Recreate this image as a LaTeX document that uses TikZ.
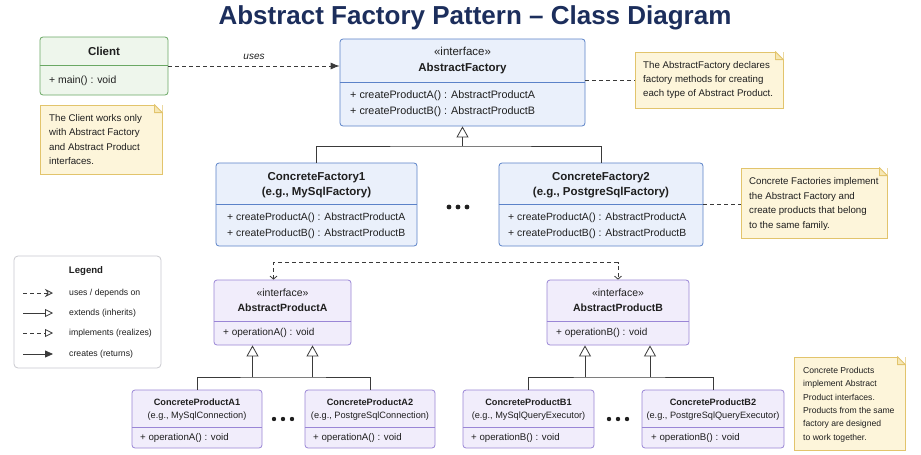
\documentclass[tikz,border=0pt]{standalone}
\usepackage{fontspec}
\setmainfont{Liberation Sans}
\usetikzlibrary{arrows.meta}
\definecolor{ink}{HTML}{1F1F1F}
\definecolor{titleblue}{HTML}{1C2E5C}
\definecolor{linec}{HTML}{3A3A3A}
\definecolor{clientfill}{HTML}{EEF6EC}
\definecolor{clientdraw}{HTML}{6AA864}
\definecolor{facfill}{HTML}{EAF0FB}
\definecolor{facdraw}{HTML}{5B82C8}
\definecolor{prodfill}{HTML}{F1EDFB}
\definecolor{proddraw}{HTML}{9A86D6}
\definecolor{notefill}{HTML}{FDF5DA}
\definecolor{notedraw}{HTML}{E2C46C}
\definecolor{notefold}{HTML}{F6E7B4}
\definecolor{legenddraw}{HTML}{C9C9CF}

\tikzset{
  umlbox/.style={draw, line width=0.8pt, rounded corners=3pt, inner sep=0pt},
  clientbox/.style={umlbox, draw=clientdraw, fill=clientfill},
  facbox/.style={umlbox, draw=facdraw, fill=facfill},
  prodbox/.style={umlbox, draw=proddraw, fill=prodfill},
  notebox/.style={draw=notedraw, fill=notefill, line width=0.8pt, inner sep=0pt},
  legendbox/.style={draw=legenddraw, fill=white, line width=0.8pt, rounded corners=4pt, inner sep=0pt},
  divider/.style={line width=0.8pt},
  hdr/.style={align=center, inner sep=0pt, text=ink},
  ops/.style={align=left, anchor=west, inner sep=0pt, text=ink},
  notetext/.style={align=left, anchor=west, inner sep=0pt, text=ink, font=\fontsize{9.7}{14.4}\selectfont},
  lgtext/.style={anchor=west, inner sep=0pt, text=ink, font=\fontsize{8.7}{10}\selectfont},
  link/.style={draw=linec, line width=0.8pt},
  dep/.style={link, dash pattern=on 4pt off 3pt},
  extends/.style={link, -{Triangle[open, length=11pt, width=12pt]}},
}

\begin{document}
\begin{tikzpicture}[x=1pt, y=-1pt]
  \fill[white] (0,0) rectangle (921,455);
  \useasboundingbox (0,0) rectangle (921,455);

  \node[anchor=base, text=titleblue, font=\bfseries\fontsize{26}{30}\selectfont] (title) at (475,24)
    {Abstract Factory Pattern – Class Diagram};

  % Client
  \node[clientbox, minimum width=128pt, minimum height=58pt] (client) at (104,66) {};
  \draw[clientdraw, divider] (client.west |- 0,65.5) -- (client.east |- 0,65.5);
  \node[hdr, font=\bfseries\fontsize{11.5}{14}\selectfont] (client-h) at (104,51) {Client};
  \node[ops, font=\fontsize{10.4}{16}\selectfont] (client-m) at (49,81) {+ main() : void};

  \node[notebox, minimum width=122pt, minimum height=69pt] (nclient) at (101,139.5) {};
  \node[notetext] (nclient-t) at (49,139.5)
    {The Client works only\\with Abstract Factory\\and Abstract Product\\interfaces.};

  % AbstractFactory
  \node[facbox, minimum width=245pt, minimum height=87pt] (af) at (462.5,82.5) {};
  \draw[facdraw, divider] (af.west |- 0,82) -- (af.east |- 0,82);
  \node[hdr, font=\fontsize{11.5}{16}\selectfont] (af-h) at (462.5,61)
    {«interface»\\\textbf{AbstractFactory}};
  \node[ops, font=\fontsize{10.8}{16}\selectfont] (af-m) at (350,104)
    {+ createProductA() : AbstractProductA\\+ createProductB() : AbstractProductB};

  \node[notebox, minimum width=148pt, minimum height=56pt] (naf) at (709,80) {};
  \node[notetext] (naf-t) at (643,80)
    {The AbstractFactory declares\\factory methods for creating\\each type of Abstract Product.};

  % uses
  \draw[dep, -{Latex[length=9pt, width=7pt]}] (client.east) -- (client.east -| af.west)
    node[midway, above=6pt, inner sep=0pt, text=ink, font=\itshape\fontsize{10}{12}\selectfont] (uses) {uses};
  \draw[dep] (naf.west -| af.east) -- (naf.west);

  % concrete factories
  \node[facbox, minimum width=201pt, minimum height=83pt] (cf1) at (316.5,204.5) {};
  \draw[facdraw, divider] (cf1.west |- 0,204) -- (cf1.east |- 0,204);
  \node[hdr, font=\bfseries\fontsize{11.5}{14.5}\selectfont] (cf1-h) at (316.5,185)
    {ConcreteFactory1\\(e.g., MySqlFactory)};
  \node[ops, font=\fontsize{10.4}{16}\selectfont] (cf1-m) at (227,226)
    {+ createProductA() : AbstractProductA\\+ createProductB() : AbstractProductB};

  \node[facbox, minimum width=204pt, minimum height=83pt] (cf2) at (601,204.5) {};
  \draw[facdraw, divider] (cf2.west |- 0,204) -- (cf2.east |- 0,204);
  \node[hdr, font=\bfseries\fontsize{11.5}{14.5}\selectfont] (cf2-h) at (601,185)
    {ConcreteFactory2\\(e.g., PostgreSqlFactory)};
  \node[ops, font=\fontsize{10.4}{16}\selectfont] (cf2-m) at (508,226)
    {+ createProductA() : AbstractProductA\\+ createProductB() : AbstractProductB};

  \foreach \dx in {-9,0,9}
    \fill[ink] (458+\dx,207) circle (2.4pt);

  \coordinate (fjoin) at (af.south |- 0,146);
  \draw[link] (cf1.north) |- (fjoin) -| (cf2.north);
  \draw[extends] (fjoin) -- (af.south);

  \node[notebox, minimum width=146pt, minimum height=70pt] (ncf) at (814,203) {};
  \node[notetext] (ncf-t) at (749,204)
    {Concrete Factories implement\\the Abstract Factory and\\create products that belong\\to the same family.};
  \draw[dep] (cf2.east) -- (cf2.east -| ncf.west);

  % Legend
  \node[legendbox, minimum width=147pt, minimum height=112pt] (legend) at (87.5,312) {};
  \node[inner sep=0pt, text=ink, font=\bfseries\fontsize{9.6}{12}\selectfont] (lg-title) at (86,271) {Legend};
  \node[lgtext] (lg1) at (69,293) {uses / depends on};
  \node[lgtext] (lg2) at (69,313) {extends (inherits)};
  \node[lgtext] (lg3) at (69,333) {implements (realizes)};
  \node[lgtext] (lg4) at (69,354) {creates (returns)};
  \draw[dep, -{Stealth[open, length=8pt, width=8pt]}] ([xshift=-46pt]lg1.west) -- ([xshift=-16pt]lg1.west);
  \draw[link, -{Triangle[open, length=8pt, width=8pt]}] ([xshift=-46pt]lg2.west) -- ([xshift=-16pt]lg2.west);
  \draw[dep, -{Triangle[open, length=8pt, width=8pt]}] ([xshift=-46pt]lg3.west) -- ([xshift=-16pt]lg3.west);
  \draw[link, -{Triangle[length=8pt, width=7pt]}] ([xshift=-46pt]lg4.west) -- ([xshift=-16pt]lg4.west);

  % abstract products
  \node[prodbox, minimum width=137pt, minimum height=65pt] (pa) at (282.5,312.5) {};
  \draw[proddraw, divider] (pa.west |- 0,321) -- (pa.east |- 0,321);
  \node[hdr, font=\fontsize{10.5}{15}\selectfont] (pa-h) at (282.5,300.5)
    {«interface»\\\textbf{AbstractProductA}};
  \node[ops, font=\fontsize{10}{14}\selectfont] (pa-m) at (223,333) {+ operationA() : void};

  \node[prodbox, minimum width=142pt, minimum height=65pt] (pb) at (618,312.5) {};
  \draw[proddraw, divider] (pb.west |- 0,321) -- (pb.east |- 0,321);
  \node[hdr, font=\fontsize{10.5}{15}\selectfont] (pb-h) at (618,300.5)
    {«interface»\\\textbf{AbstractProductB}};
  \node[ops, font=\fontsize{10}{14}\selectfont] (pb-m) at (556,333) {+ operationB() : void};

  \draw[dep, {Straight Barb[length=3pt, width=7pt]}-{Straight Barb[length=3pt, width=7pt]}]
    ([xshift=-9pt]pa.north) -- ++(0,-17) -| (pb.north);

  % concrete products
  \node[prodbox, minimum width=130pt, minimum height=58pt] (pa1) at (197,419) {};
  \draw[proddraw, divider] (pa1.west |- 0,427) -- (pa1.east |- 0,427);
  \node[hdr, font=\fontsize{9.2}{13}\selectfont] (pa1-h) at (197,409.5)
    {\textbf{ConcreteProductA1}\\(e.g., MySqlConnection)};
  \node[ops, font=\fontsize{9.7}{12}\selectfont] (pa1-m) at (140,438) {+ operationA() : void};

  \node[prodbox, minimum width=130pt, minimum height=58pt] (pa2) at (370,419) {};
  \draw[proddraw, divider] (pa2.west |- 0,427) -- (pa2.east |- 0,427);
  \node[hdr, font=\fontsize{9.2}{13}\selectfont] (pa2-h) at (370,409.5)
    {\textbf{ConcreteProductA2}\\(e.g., PostgreSqlConnection)};
  \node[ops, font=\fontsize{9.7}{12}\selectfont] (pa2-m) at (313,438) {+ operationA() : void};

  \node[prodbox, minimum width=131pt, minimum height=58pt] (pb1) at (528.5,419) {};
  \draw[proddraw, divider] (pb1.west |- 0,427) -- (pb1.east |- 0,427);
  \node[hdr, font=\fontsize{9.2}{13}\selectfont] (pb1-h) at (528.5,409.5)
    {\textbf{ConcreteProductB1}\\(e.g., MySqlQueryExecutor)};
  \node[ops, font=\fontsize{9.7}{12}\selectfont] (pb1-m) at (471,438) {+ operationB() : void};

  \node[prodbox, minimum width=142pt, minimum height=58pt] (pb2) at (713,419) {};
  \draw[proddraw, divider] (pb2.west |- 0,427) -- (pb2.east |- 0,427);
  \node[hdr, font=\fontsize{9.2}{13}\selectfont] (pb2-h) at (713,409.5)
    {\textbf{ConcreteProductB2}\\(e.g., PostgreSqlQueryExecutor)};
  \node[ops, font=\fontsize{9.7}{12}\selectfont] (pb2-m) at (651,438) {+ operationB() : void};

  \foreach \px in {283,618}
    \foreach \dx in {-9,0,9}
      \fill[ink] (\px+\dx,419) circle (2.2pt);

  \coordinate (ja) at (pa.south |- 0,377);
  \coordinate (jb) at (pb.south |- 0,377);
  \draw[link] (pa1.north) |- (ja) -| (pa2.north);
  \draw[link] (pb1.north) |- (jb) -| (pb2.north);
  \foreach \dx in {-30,30}
    \draw[extends] ([xshift=\dx pt]ja) -- ([xshift=\dx pt]pa.south);
  \foreach \dx in {-33,32}
    \draw[extends] ([xshift=\dx pt]jb) -- ([xshift=\dx pt]pb.south);

  \node[notebox, minimum width=111pt, minimum height=93pt] (nprod) at (849.5,403.5) {};
  \node[notetext, font=\fontsize{8.6}{13.4}\selectfont] (nprod-t) at (803,404.5)
    {Concrete Products\\implement Abstract\\Product interfaces.\\Products from the same\\factory are designed\\to work together.};

  % folded corners of the notes
  \foreach \n in {nclient,naf,ncf,nprod} {
    \fill[white] ([xshift=-8pt]\n.north east) -- (\n.north east) -- ([yshift=-8pt]\n.north east) -- cycle;
    \draw[notedraw, fill=notefold, line width=0.8pt, line join=round]
      ([xshift=-8pt]\n.north east) -- ([yshift=-8pt]\n.north east)
      -- ([xshift=-8pt, yshift=-8pt]\n.north east) -- cycle;
  }
\end{tikzpicture}
\end{document}
